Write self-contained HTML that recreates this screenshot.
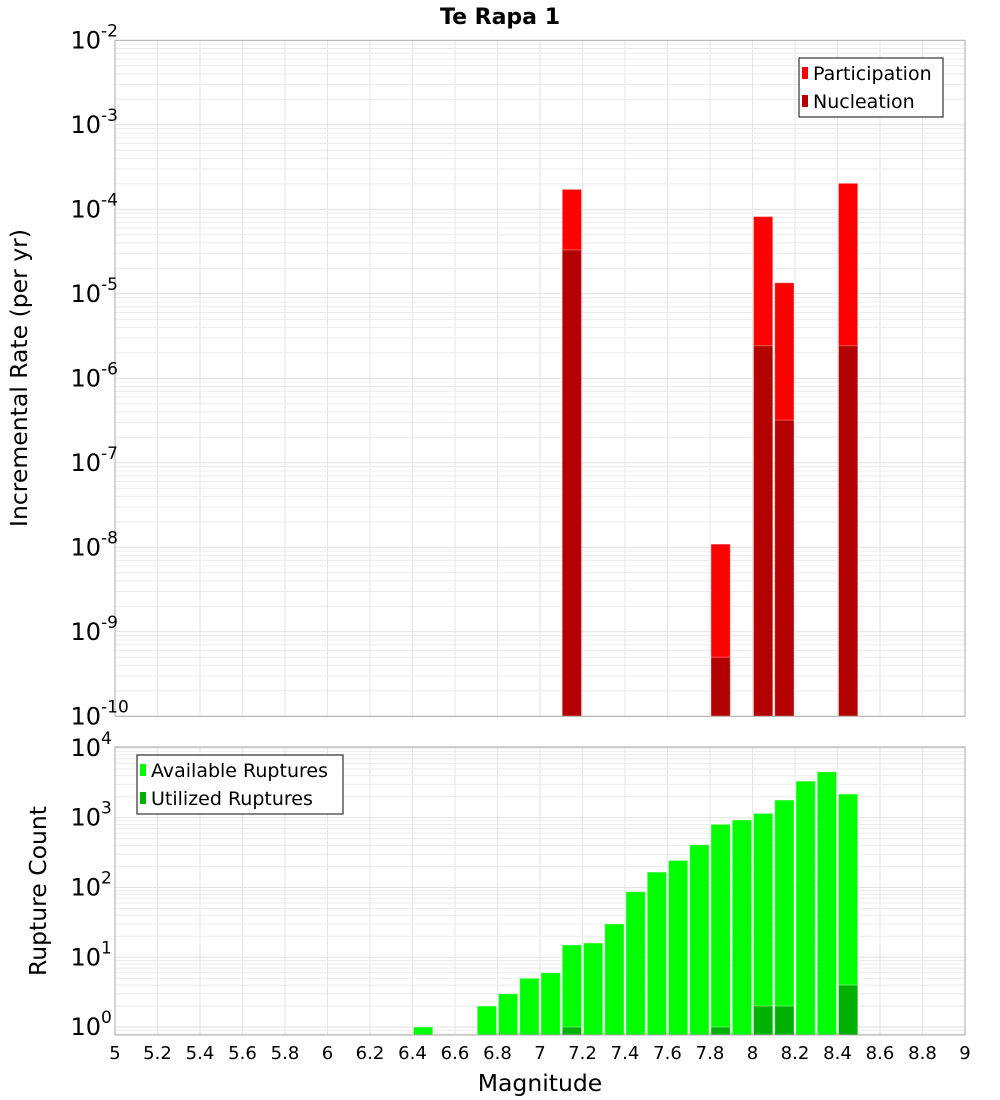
<!DOCTYPE html>
<html><head><meta charset="utf-8"><style>
body{margin:0;background:#fff;}
svg{display:block;font-family:"DejaVu Sans","Liberation Sans",sans-serif;}
</style></head><body>
<svg id="chart" width="1000" height="1100" viewBox="0 0 1000 1100" xmlns="http://www.w3.org/2000/svg">
<rect width="1000" height="1100" fill="#fff"/>
<text x="500" y="24" text-anchor="middle" font-size="22" font-weight="bold">Te Rapa 1</text>
<g id="topPanel"></g><g id="botPanel"></g>
<text transform="translate(27,378) rotate(-90)" text-anchor="middle" font-size="23.5">Incremental Rate (per yr)</text>
<text transform="translate(46,891) rotate(-90)" text-anchor="middle" font-size="23.5">Rupture Count</text>
<text x="540" y="1091" text-anchor="middle" font-size="23.5">Magnitude</text>
</svg>
<script>
const rateMags=[7.15,7.85,8.05,8.15,8.45];
const participation=[1.72e-4,1.09e-8,8.2e-5,1.35e-5,2.03e-4];
const nucleation=[3.3e-5,5.0e-10,2.43e-6,3.2e-7,2.43e-6];
const countMags=[6.45,6.75,6.85,6.95,7.05,7.15,7.25,7.35,7.45,7.55,7.65,7.75,7.85,7.95,8.05,8.15,8.25,8.35,8.45];
const available=[1,2,3,5,6,15,16,30,87,166,244,409,802,925,1150,1790,3340,4540,2180];
const utilizedMags=[7.15,7.85,8.05,8.15,8.45];
const utilized=[1,1,2,2,4];
const xTicks=[5,5.2,5.4,5.6,5.8,6,6.2,6.4,6.6,6.8,7,7.2,7.4,7.6,7.8,8,8.2,8.4,8.6,8.8,9];
const topExps=[-2,-3,-4,-5,-6,-7,-8,-9,-10];
const botExps=[0,1,2,3,4];

const NS="http://www.w3.org/2000/svg";
const X0=115,X1=965;
const xs=m=>X0+(m-5)/4*(X1-X0);
function el(p,t,a){const e=document.createElementNS(NS,t);for(const k in a)e.setAttribute(k,a[k]);p.appendChild(e);return e;}
function panel(g,y0,y1,logTop,logBot,prefix){
  const ys=v=>y0+(logTop-Math.log10(v))/(logTop-logBot)*(y1-y0);
  const grid=el(g,'g',{});
  
  
  for(const t of xTicks){const x=xs(t);el(grid,'line',{x1:x,x2:x,y1:y0,y2:y1,stroke:'#e6e6e6','stroke-width':1});}
  for(let d=Math.floor(logBot);d<logTop;d++){for(let k=1;k<10;k++){const v=k*Math.pow(10,d);const lv=Math.log10(v);if(lv<logBot-1e-9||lv>logTop+1e-9)continue;const y=ys(v);el(grid,'line',{x1:X0,x2:X1,y1:y,y2:y,stroke:k==1?'#e2e2e2':'#ececec','stroke-width':1});}}
  return ys;
}
function bar(g,m,v,ys,yb,fill,name){
  const x=xs(m-0.05)+1,w=xs(m+0.05)-xs(m-0.05)-2;const y=ys(v);
  const r=el(g,'rect',{x:x,y:y,width:w,height:yb-y,fill:fill,stroke:'rgba(255,255,255,0.35)','stroke-width':1});
  
  
}
function yLabels(g,exps,ys,prefix){
  for(const e of exps){const y=ys(Math.pow(10,e));
    const t=el(g,'text',{x:101,y:y+8,'text-anchor':'end','font-size':24});
    
    
    t.textContent='10';
    const s=el(g,'text',{x:101,y:y-4,'font-size':17});
    
    
    s.textContent=String(e);}
}
const topG=document.getElementById('topPanel');
const ysT=panel(topG,40.3,716.3,-2,-10,'top');
rateMags.forEach((m,i)=>bar(topG,m,participation[i],ysT,716.3,'#ff0000','participation-bar'));
rateMags.forEach((m,i)=>bar(topG,m,nucleation[i],ysT,716.3,'#b30000','nucleation-bar'));
el(topG,'rect',{x:X0,y:40.3,width:X1-X0,height:676,fill:'none',stroke:'#aaa','stroke-width':1});
yLabels(topG,topExps,ysT,'top');
const botG=document.getElementById('botPanel');
const B0=747.9,DEC=69.8;
const ysB=panel(botG,747,1035,4+(B0-747)/DEC,-(1035-B0-4*DEC)/DEC,'bottom');
countMags.forEach((m,i)=>bar(botG,m,available[i],ysB,1035,'#00ff00','available-bar'));
utilizedMags.forEach((m,i)=>bar(botG,m,utilized[i],ysB,1035,'#00b000','utilized-bar'));
el(botG,'rect',{x:X0,y:747,width:X1-X0,height:288,fill:'none',stroke:'#aaa','stroke-width':1});
yLabels(botG,botExps,ysB,'bottom');
for(const t of xTicks){const tx=el(botG,'text',{x:xs(t),y:1059,'text-anchor':'middle','font-size':18});
  
  
  tx.textContent=String(t);}
function legend(g,x,y,w,items,name){
  const lg=el(g,'g',{});
  
  
  el(lg,'rect',{x:x,y:y,width:w,height:59,fill:'#fff',stroke:'#333','stroke-width':1.2});
  items.forEach((it,i)=>{const cy=y+15+i*28;
    el(lg,'rect',{x:x+3,y:cy-6,width:6,height:12,fill:it[1]});
    const t=el(lg,'text',{x:x+14,y:cy+7,'font-size':19});
    
    
    t.textContent=it[0];});
}
legend(topG,799,58,144,[['Participation','#ff0000'],['Nucleation','#b30000']],'top-legend');
legend(botG,137,755,206,[['Available Ruptures','#00ff00'],['Utilized Ruptures','#00b000']],'bottom-legend');
</script>
</body></html>
